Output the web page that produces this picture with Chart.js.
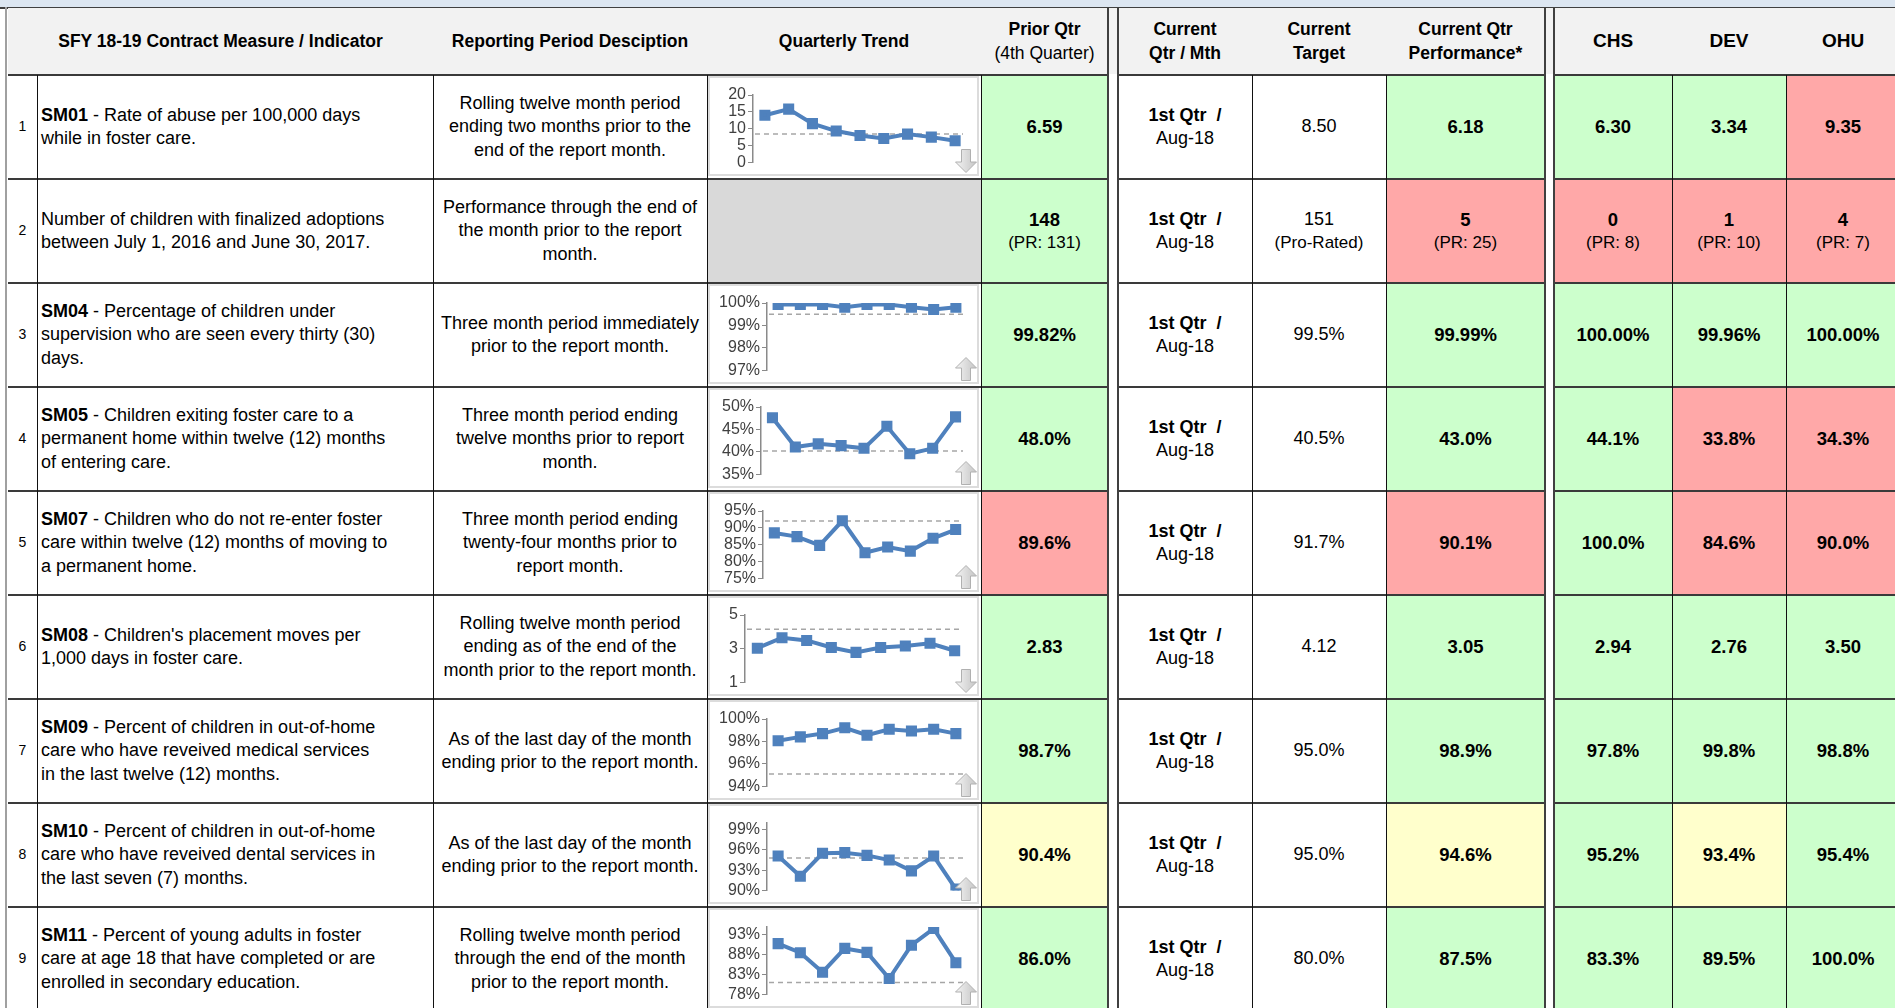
<!DOCTYPE html>
<html>
<head>
<meta charset="utf-8">
<script src="https://cdn.jsdelivr.net/npm/chart.js@4.4.1/dist/chart.umd.min.js"></script>
<style>
html, body { margin: 0; padding: 0; width: 1895px; height: 1008px; overflow: hidden; background: #fff; }
body { font-family: Arial, "Liberation Sans", sans-serif; color: #000; }
#sheet { position: relative; width: 1895px; height: 1008px; overflow: hidden; }
.c { position: absolute; box-sizing: border-box; display: flex; flex-direction: column; align-items: center; justify-content: center; text-align: center; font-size: 18px; line-height: 23.5px; white-space: pre-line; }
.hd { font-weight: bold; font-size: 17.5px; line-height: 24px; }
.hd span { font-weight: normal; }
.big { font-size: 19px; }
.left { align-items: flex-start; text-align: left; padding-left: 4px; }
.num { font-size: 14px; }
.val { font-weight: bold; font-size: 18.5px; }
.sub { font-weight: normal; font-size: 17px; }
.ln { position: absolute; }
.g { background: #ccffcc; }
.r { background: #ffa8a8; }
.y { background: #ffffcc; }
.box { position: absolute; box-sizing: border-box; border: 2px solid #dcdcdc; background: #fff; }
canvas { position: absolute; }
svg { position: absolute; }
</style>
</head>
<body>
<div id="sheet"></div>
<script>
// ---- data ----
var quarters = ['Q1', 'Q2', 'Q3', 'Q4', 'Q5', 'Q6', 'Q7', 'Q8', 'Q9'];

var codes = ['SM01', '', 'SM04', 'SM05', 'SM07', 'SM08', 'SM09', 'SM10', 'SM11'];
var measures = [
  ' - Rate of abuse per 100,000 days\nwhile in foster care.',
  'Number of children with finalized adoptions\nbetween July 1, 2016 and June 30, 2017.',
  ' - Percentage of children under\nsupervision who are seen every thirty (30)\ndays.',
  ' - Children exiting foster care to a\npermanent home within twelve (12) months\nof entering care.',
  ' - Children who do not re-enter foster\ncare within twelve (12) months of moving to\na permanent home.',
  ' - Children\'s placement moves per\n1,000 days in foster care.',
  ' - Percent of children in out-of-home\ncare who have reveived medical services\nin the last twelve (12) months.',
  ' - Percent of children in out-of-home\ncare who have reveived dental services in\nthe last seven (7) months.',
  ' - Percent of young adults in foster\ncare at age 18 that have completed or are\nenrolled in secondary education.'
];
var periods = [
  'Rolling twelve month period\nending two months prior to the\nend of the report month.',
  'Performance through the end of\nthe month prior to the report\nmonth.',
  'Three month period immediately\nprior to the report month.',
  'Three month period ending\ntwelve months prior to report\nmonth.',
  'Three month period ending\ntwenty-four months prior to\nreport month.',
  'Rolling twelve month period\nending as of the end of the\nmonth prior to the report month.',
  'As of the last day of the month\nending prior to the report month.',
  'As of the last day of the month\nending prior to the report month.',
  'Rolling twelve month period\nthrough the end of the month\nprior to the report month.'
];

var priorVals   = ['6.59', '148', '99.82%', '48.0%', '89.6%', '2.83', '98.7%', '90.4%', '86.0%'];
var priorSub    = ['', '(PR: 131)', '', '', '', '', '', '', ''];
var priorStat   = ['g', 'g', 'g', 'g', 'r', 'g', 'g', 'y', 'g'];
var targetVals  = ['8.50', '151', '99.5%', '40.5%', '91.7%', '4.12', '95.0%', '95.0%', '80.0%'];
var targetSub   = ['', '(Pro-Rated)', '', '', '', '', '', '', ''];
var perfVals    = ['6.18', '5', '99.99%', '43.0%', '90.1%', '3.05', '98.9%', '94.6%', '87.5%'];
var perfSub     = ['', '(PR: 25)', '', '', '', '', '', '', ''];
var perfStat    = ['g', 'r', 'g', 'g', 'r', 'g', 'g', 'y', 'g'];
var chsVals     = ['6.30', '0', '100.00%', '44.1%', '100.0%', '2.94', '97.8%', '95.2%', '83.3%'];
var chsSub      = ['', '(PR: 8)', '', '', '', '', '', '', ''];
var chsStat     = ['g', 'r', 'g', 'g', 'g', 'g', 'g', 'g', 'g'];
var devVals     = ['3.34', '1', '99.96%', '33.8%', '84.6%', '2.76', '99.8%', '93.4%', '89.5%'];
var devSub      = ['', '(PR: 10)', '', '', '', '', '', '', ''];
var devStat     = ['g', 'r', 'g', 'r', 'r', 'g', 'g', 'y', 'g'];
var ohuVals     = ['9.35', '4', '100.00%', '34.3%', '90.0%', '3.50', '98.8%', '95.4%', '100.0%'];
var ohuSub      = ['', '(PR: 7)', '', '', '', '', '', '', ''];
var ohuStat     = ['r', 'r', 'g', 'r', 'r', 'g', 'g', 'g', 'g'];

// quarterly trend sparklines (null = no chart)
var sm01 = [14.0, 15.8, 11.5, 9.3, 8.0, 7.1, 8.4, 7.5, 6.4];
var sm04 = [99.93, 99.93, 99.93, 99.81, 99.93, 99.93, 99.81, 99.71, 99.81];
var sm05 = [47.6, 41.1, 41.8, 41.4, 40.8, 45.7, 39.6, 40.8, 47.8];
var sm07 = [88.5, 87.4, 84.8, 92.1, 82.6, 84.3, 83.1, 86.9, 89.5];
var sm08 = [3.03, 3.65, 3.49, 3.07, 2.78, 3.07, 3.16, 3.32, 2.88];
var sm09 = [98.07, 98.41, 98.70, 99.22, 98.56, 99.08, 98.93, 99.08, 98.70];
var sm10 = [95.1, 92.1, 95.5, 95.6, 95.2, 94.5, 92.9, 95.1, 90.2];
var sm11 = [90.8, 88.5, 83.6, 89.6, 88.6, 82.0, 90.4, 94.6, 86.0];
var trends     = [sm01, null, sm04, sm05, sm07, sm08, sm09, sm10, sm11];
var trendGoal  = [8.4, null, 99.5, 40.2, 92.0, 4.15, 95.1, 94.8, 81.0];
var axisMin    = [0, null, 97, 35, 75, 1, 94, 90, 78];
var axisMax    = [20, null, 100, 50, 95, 5, 100, 100, 95];
var axisStep   = [5, null, 1, 5, 5, 2, 2, 3, 5];
var axisPct    = [false, null, true, true, true, false, true, true, true];
var axisWidth  = [43, null, 57, 51, 53, 35, 57, 57, 57];
var arrowDir   = ['down', null, 'up', 'up', 'up', 'down', 'up', 'up', 'up'];

// ---- layout ----
var sheet = document.getElementById('sheet');
var headTop = 8, headBot = 74, rowTop0 = 75, rowH = 104;

function div(cls, x, y, w, h, html, bg) {
  var d = document.createElement('div');
  d.className = cls;
  d.style.left = x + 'px'; d.style.top = y + 'px';
  d.style.width = w + 'px'; d.style.height = h + 'px';
  if (bg) d.style.background = bg;
  if (html != null) d.innerHTML = html;
  sheet.appendChild(d);
  return d;
}

// top band + header
div('ln', 0, 0, 1895, 7, null, '#dce6f1');
div('ln', 0, 7, 1895, 1.5, null, '#404040');
div('ln', 8, headTop, 1887, headBot - headTop, null, '#f2f2f2');
div('c hd', 8, headTop, 425, 66, 'SFY 18-19 Contract Measure / Indicator');
div('c hd', 433, headTop, 274, 66, 'Reporting Period Desciption');
div('c hd', 707, headTop, 274, 66, 'Quarterly Trend');
div('c hd', 981, headTop, 127, 66, 'Prior Qtr<br><span>(4th Quarter)</span>');
div('c hd', 1118, headTop, 134, 66, 'Current<br>Qtr / Mth');
div('c hd', 1252, headTop, 134, 66, 'Current<br>Target');
div('c hd', 1386, headTop, 159, 66, 'Current Qtr<br>Performance*');
div('c hd big', 1554, headTop, 118, 66, 'CHS');
div('c hd big', 1672, headTop, 114, 66, 'DEV');
div('c hd big', 1786, headTop, 114, 66, 'OHU');

function valHtml(v, s, bold) {
  var h = bold ? '<div class="val">' + v + '</div>' : '<div>' + v + '</div>';
  if (s) h += '<div class="sub">' + s + '</div>';
  return h;
}

for (var i = 0; i < 9; i++) {
  var y = rowTop0 + i * rowH;
  div('c num', 8, y, 29, rowH, String(i + 1));
  var m = codes[i] ? '<b>' + codes[i] + '</b>' + measures[i] : measures[i];
  div('c left', 37, y, 396, rowH, '<div>' + m + '</div>');
  div('c', 433, y, 274, rowH, periods[i]);
  if (!trends[i]) div('ln', 707, y, 274, rowH, null, '#d9d9d9');
  div('c ' + priorStat[i], 981, y, 127, rowH, valHtml(priorVals[i], priorSub[i], true));
  div('c', 1118, y, 134, rowH, '<div><b>1st Qtr &nbsp;/</b></div><div>Aug-18</div>');
  div('c', 1252, y, 134, rowH, valHtml(targetVals[i], targetSub[i], false));
  div('c ' + perfStat[i], 1386, y, 159, rowH, valHtml(perfVals[i], perfSub[i], true));
  div('c ' + chsStat[i], 1554, y, 118, rowH, valHtml(chsVals[i], chsSub[i], true));
  div('c ' + devStat[i], 1672, y, 114, rowH, valHtml(devVals[i], devSub[i], true));
  div('c ' + ohuStat[i], 1786, y, 114, rowH, valHtml(ohuVals[i], ohuSub[i], true));
}

// grid lines
div('ln', 5, 7, 2, 1001, null, '#a0a0a0');
for (var k = 0; k <= 9; k++) {
  div('ln', 8, rowTop0 + k * rowH - 1.5, 1887, 2, null, '#3a3a3a');
}
[37, 433, 707, 981, 1252, 1386, 1672, 1786].forEach(function (x) {
  div('ln', x - 0.5, rowTop0, 1, 1008 - rowTop0, null, '#111');
});
[[1108, 1118], [1545, 1554]].forEach(function (g) {
  div('ln', g[0], 8, g[1] - g[0], 1000, null, '#fff');
  div('ln', g[0], 8, g[1] - g[0], headBot - 8, null, '#f2f2f2');
  div('ln', g[0] - 1, 8, 2, 1000, null, '#404040');
  div('ln', g[1] - 1, 8, 2, 1000, null, '#404040');
});

// ---- sparklines ----
var targetLine = {
  id: 'targetLine',
  beforeDatasetsDraw: function (chart, args, opts) {
    var a = chart.chartArea;
    var yy = chart.scales.y.getPixelForValue(opts.value);
    var ctx = chart.ctx;
    ctx.save();
    ctx.strokeStyle = '#a6a6a6';
    ctx.lineWidth = 1.5;
    ctx.setLineDash([5, 4]);
    ctx.beginPath();
    ctx.moveTo(a.left + 2, yy);
    ctx.lineTo(a.right - 4, yy);
    ctx.stroke();
    ctx.restore();
  }
};

function arrowSvg(x, y, dir) {
  var pts = dir === 'up'
    ? '11,0.5 21.5,11 15.5,11 15.5,23.5 6.5,23.5 6.5,11 0.5,11'
    : '11,23.5 21.5,13 15.5,13 15.5,0.5 6.5,0.5 6.5,13 0.5,13';
  var id = 'gr' + x + '_' + y;
  var s = '<svg width="22" height="24" style="left:' + x + 'px;top:' + y + 'px">' +
    '<defs><linearGradient id="' + id + '" x1="0" y1="0" x2="1" y2="0">' +
    '<stop offset="0" stop-color="#f4f4f4"/><stop offset="1" stop-color="#c4c4c4"/></linearGradient></defs>' +
    '<polygon points="' + pts + '" fill="url(#' + id + ')" stroke="#b0b0b0" stroke-width="1"/></svg>';
  sheet.insertAdjacentHTML('beforeend', s);
}

trends.forEach(function (series, i) {
  if (!series) return;
  var y = rowTop0 + i * rowH;
  var b = document.createElement('div');
  b.className = 'box';
  b.style.left = '708px'; b.style.top = (y + 1) + 'px';
  b.style.width = '271px'; b.style.height = '100px';
  sheet.appendChild(b);

  var cv = document.createElement('canvas');
  cv.width = 266; cv.height = 96;
  cv.style.left = '710px'; cv.style.top = (y + 3) + 'px';
  sheet.appendChild(cv);

  var pct = axisPct[i];

  new Chart(cv.getContext('2d'), {
    type: 'line',
    data: {
      labels: quarters,
      datasets: [{
        data: series,
        borderColor: '#4f81bd',
        backgroundColor: '#4f81bd',
        borderWidth: 4,
        pointStyle: 'rect',
        pointRadius: 5,
        pointBackgroundColor: '#4f81bd',
        pointBorderColor: '#4f81bd',
        tension: 0
      }]
    },
    options: {
      responsive: false,
      animation: false,
      layout: { padding: { top: 17, bottom: 9, left: 0, right: 0 } },
      plugins: {
        legend: { display: false },
        tooltip: { enabled: false },
        targetLine: { value: trendGoal[i] }
      },
      scales: {
        x: { display: false, offset: true },
        y: {
          min: axisMin[i],
          max: axisMax[i],
          afterFit: function (s) { s.width = axisWidth[i]; },
          // ticks start at the axis minimum, like the spreadsheet chart
          afterBuildTicks: function (s) {
            var t = [];
            for (var v = axisMin[i]; v <= axisMax[i] + 1e-9; v += axisStep[i]) t.push({ value: v });
            s.ticks = t;
          },
          ticks: {
            autoSkip: false,
            padding: 2,
            color: '#404040',
            font: { family: 'Arial, "Liberation Sans"', size: 16 },
            callback: function (v) { return pct ? v + '%' : v; }
          },
          grid: { display: true, drawOnChartArea: false, drawTicks: true, tickLength: 5, color: '#8a8a8a' },
          border: { display: true, color: '#8a8a8a', width: 1.5 }
        }
      }
    },
    plugins: [targetLine]
  });

  arrowSvg(955, y + 74, arrowDir[i]);
});
</script>
</body>
</html>
